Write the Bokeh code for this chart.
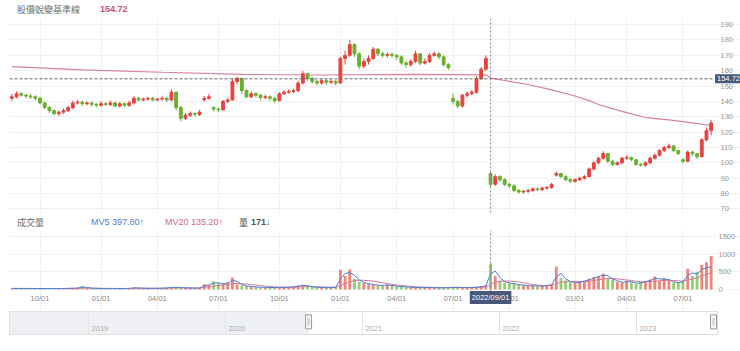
from bokeh.plotting import figure
from bokeh.models import Range1d, FixedTicker, Span, ColumnDataSource, Div, Label
from bokeh.layouts import column
from bokeh.core.properties import value
from bokeh.embed import file_html
from bokeh.resources import INLINE

# ---------------- data ----------------
price_open = [142,143,145,144,143.5,143,142,139,136,134,
              132,133,134,136,139,139.5,138.5,139,138,137.5,
              138.5,138,139,137,138.5,137.5,139,142,141,141.5,
              142,141,141.5,142,141,146,136,129,131,132,
              131.5,141,142,136,135,134.5,140,141,153,155,
              147,143,145,144,142.5,143,142,140.5,145,146,
              146.5,147,152,158,155,153,152,153.5,152.5,153,
              152,168,170,177,171,163,166,168,174,171,
              170,170.5,170,169,165,164,166,171,165,166,
              170,171,169,164,142,140,137,144,145,146,
              155,161,93,86,91,89,86,85,82,81,
              81.5,82,83,82.5,83.5,84,92,93,91,89,
              88,89,90,91,96,100,103,106,101,99,
              100,103,103.5,102,99,98.5,100,103,105,108,
              110,111,108,102,101,107,106,104,115,121]
price_close = [143,145,144,143.5,143,142,139,136,134,132,
               133,134,136,139,139.5,138.5,139,138,137.5,138.5,
               138,139,137,138.5,137.5,139,142,141,141.5,142,
               141,141.5,142,141,146,136,129,131,132,131.5,
               133,142,143,135,134.5,140,141,153,155,147,
               143,145,144,142.5,143,142,140.5,145,146,146.5,
               147,152,158,155,153,152,153.5,152.5,153,152,
               168,170,177,171,163,166,168,174,171,170,
               170.5,170,169,165,164,166,171,165,166,170,
               171,169,164,162,140,137,144,145,146,155,
               161,168,86,91,89,86,85,82,81,81.5,
               82,83,82.5,83.5,84,86,93,91,89,88,
               89,90,91,96,100,103,106,101,99,100,
               103,103.5,102,99,98.5,100,103,105,108,110,
               111,108,106,101,107,106,104,115,121,126]
price_high = [145,146.5,146,145,145,144,143,140,137,135,
              134,135.5,137,140.5,141,140.5,140,140,139,140,
              139.5,140.5,140,139.5,139.5,140.5,143.5,143,142.5,143,
              143,142.5,143.5,143,148,146.5,137,132.5,133.5,133,
              134.5,143.5,145,137,136,141,142.5,155,156,155.5,
              148,146.5,146,145,144.5,144,143,146,147.5,148,
              148.5,153.5,160,158.5,156,154,155,154.5,154.5,154,
              169,173,180,178,172,168,170,175.5,175,172.5,
              172,172,171,170,166.5,167.5,173,171.5,168,171.5,
              172.5,172,170,165,145,141,145,146.5,147.5,156.5,
              162.5,170,95,92.5,92,90,87,86,83,82.5,
              83,84,84,84.5,85,87,94.5,93.5,92,90,
              90,91,92,97,101,104,107.5,106.5,102,101,
              104,105,104,102.5,100,101,104,106,109,111,
              112.5,111.5,108.5,103,108,108,106.5,116,123,128]
price_low = [140.5,142,143,142,141.5,140.5,138,135,132.5,131,
             130.5,132,133,135,138,137,137.5,136.5,136,136.5,
             137,137,136,136,136.5,136.5,138,140,140,140.5,
             140,140,140.5,139.5,140,134,127,128,130,130,
             130.5,140,141,133.5,133,134,139,140.5,151,145,
             142,142,142.5,141,141.5,140.5,139,140,144,145,
             145.5,146,151,153.5,151.5,150.5,151,151,151.5,150.5,
             151.5,164,169,169,161,161.5,164,167,169.5,168.5,
             168.5,168.5,167,163.5,162,162.5,165,163.5,164,165,
             169,167.5,162.5,160.5,138,135.5,136,142.5,144,145,
             154,160,84,85,87.5,85,83.5,81,80,80,
             80.5,81,81.5,81.5,82.5,83,91,90,88,87,
             87,88,89,90.5,95,99,102,100,98,98,
             99,102,101,98,97.5,97.5,99,102,104,107,
             109,107,105,99.5,100.5,104.5,102.5,103.5,114,118]
volume = [30,25,35,28,22,30,26,24,32,28,
          25,30,35,40,45,100,40,35,30,25,
          28,30,26,24,30,35,55,40,35,30,
          32,35,40,45,70,60,50,45,40,35,
          45,150,120,230,180,150,200,340,150,110,
          90,80,70,60,55,60,50,60,70,60,
          80,110,130,90,70,60,55,50,60,70,
          560,380,570,300,220,180,150,130,120,110,
          140,100,90,80,70,60,55,50,60,55,
          50,45,50,55,70,60,55,50,60,70,
          90,110,730,380,250,200,180,150,130,120,
          100,110,90,100,120,150,650,320,260,200,
          180,220,250,300,350,380,450,330,280,220,
          180,250,200,160,210,230,280,370,250,330,
          240,200,180,250,590,380,500,700,770,950]
mv5 = [30,28,30,29,27,28,27,26,29,29,
       27,28,32,37,42,70,60,40,33,28,
       27,29,28,25,27,32,45,45,38,33,
       32,34,38,43,58,62,55,48,42,38,
       42,100,130,180,190,165,180,260,230,140,
       100,85,75,65,58,58,55,56,65,65,
       72,95,120,105,80,65,58,53,56,65,
       300,450,480,400,270,200,165,140,125,115,
       125,115,95,85,75,65,58,53,56,56,
       52,48,48,52,62,63,57,52,56,65,
       80,100,450,520,330,230,190,165,140,125,
       110,105,100,95,110,135,350,460,300,230,
       190,200,235,275,320,365,410,390,300,250,
       200,215,225,180,185,220,255,320,300,290,
       285,220,190,215,400,470,440,560,620,640]
mv20 = [32,31,31,30,30,29,29,28,28,28,
        28,28,29,30,32,38,38,37,36,34,
        33,32,30,29,29,30,33,35,36,36,
        35,35,36,37,42,45,47,48,47,46,
        46,60,75,95,110,125,140,165,170,165,
        155,140,125,110,95,85,75,68,65,63,
        63,70,80,85,85,80,75,70,65,64,
        120,170,220,250,265,260,250,235,215,190,
        165,145,130,115,100,90,80,72,66,62,
        58,55,53,52,53,55,56,56,57,60,
        65,72,150,200,230,240,240,230,215,190,
        165,140,125,115,115,120,170,200,215,225,
        230,225,225,235,255,280,300,310,310,300,
        285,270,255,235,220,215,220,235,245,255,
        260,255,245,240,270,300,330,380,430,480]
base_idx = [0, 15, 32, 49, 66, 85, 101, 102, 105, 110, 115, 120, 123, 125, 130, 135, 140, 145, 149]
base_val = [162.7, 160.6, 159.0, 157.6, 157.2, 157.6, 157.3, 155.2, 153.6, 151.0, 147.5,
            143.5, 140.5, 138.0, 133.5, 129.5, 128.0, 126.0, 124.3]
tick_idx = [6, 19, 31, 44, 57, 70, 82, 94, 106, 120, 131, 143]
tick_labels = ["10/01", "01/01", "04/01", "07/01", "10/01", "01/01",
               "04/01", "07/01", "10/01", "01/01", "04/01", "07/01"]
price_ticks = [70, 80, 90, 100, 110, 120, 130, 140, 150, 160, 170, 180, 190]
vol_ticks = [0, 500, 1000, 1500]
ref_price = 154.72
cross_idx = 102
cross_label = "2022/09/01"
title_text = "股價蛻變基準線"
vol_title = "成交量"
mv5_text = "MV5 397.80↑"
mv20_text = "MV20 135.20↑"
qty_head = "量"
qty_text = "171↓"
nav_years = [2019, 2020, 2021, 2022, 2023]
nav_start, nav_end = 2018.423, 2023.591
sel_start, sel_end = 2020.606, 2023.562

# ---------------- styling / layout constants ----------------
RED, GREEN = "#e8423f", "#69b02f"
AXF = "Liberation Sans"
CJK = "Noto Sans CJK TC"
GRID = "#f0f0f0"
BOX = "#47587a"

N = len(price_close)
FRAME_W = 732                        # frame runs from x=8 to the window edge
PX_PER_BAR = 704 / N                 # bars occupy x=8..712
X_LO = -0.5
X_PLOT_HI = N - 0.5
X_HI = X_LO + FRAME_W / PX_PER_BAR
X_BOX = X_LO + 719 / PX_PER_BAR      # centre of the value box on the price axis

# volume panel: frame 80 px tall, value 0 at 59 px from its top, 1500 ~ 53 px
V_PER_PX = 1500 / 53.0
V_HI = 59 * V_PER_PX
V_LO = -21 * V_PER_PX
V_AXIS = -2 * V_PER_PX
V_LABEL = -8 * V_PER_PX

xs = list(range(N))
is_up = [c >= o for o, c in zip(price_open, price_close)]
src = ColumnDataSource(dict(
    x=xs, high=price_high, low=price_low,
    top=[max(o, c) for o, c in zip(price_open, price_close)],
    bottom=[min(o, c) for o, c in zip(price_open, price_close)],
    color=[RED if u else GREEN for u in is_up],
    vcolor=["#f0705f" if u else "#80c45c" for u in is_up],
    vol=volume, mv5=mv5, mv20=mv20))


def style_axis(ax, ticks, standoff):
    ax.ticker = FixedTicker(ticks=ticks)
    ax.axis_line_color = None
    ax.major_tick_line_color = None
    ax.minor_tick_line_color = None
    ax.major_tick_out = 0
    ax.major_tick_in = 0
    ax.minor_tick_out = 0
    ax.minor_tick_in = 0
    ax.major_label_text_font_size = "7.5px"
    ax.major_label_text_color = "#9a9a9a"
    ax.major_label_text_font = AXF
    ax.major_label_standoff = standoff


def span(text, left, color, font=CJK, weight="normal", top=4):
    return (f'<span style="position:absolute;left:{left}px;top:{top}px;color:{color};'
            f"font-family:'{font}';font-size:9px;line-height:11px;font-weight:{weight};"
            f'white-space:nowrap">{text}</span>')


def header(parts, height):
    inner = "".join(parts)
    return Div(text=f'<div style="position:relative;width:740px;height:{height}px">{inner}</div>',
               width=740, height=height, margin=0)


head1 = header([span(title_text, 17, "#707070"),
                span(f"{ref_price:.2f}", 100, "#c8507a", font=AXF, weight="bold")], 18)

# ---------------- price panel ----------------
p1 = figure(frame_width=FRAME_W, height=197, x_range=Range1d(X_LO, X_HI),
            y_range=Range1d(67, 194), x_axis_location=None, y_axis_location="right",
            output_backend="svg", toolbar_location=None, min_border_left=8,
            min_border_right=0, min_border_top=0, min_border_bottom=2)
p1.outline_line_color = None
ya1 = p1.yaxis[0]
style_axis(ya1, price_ticks, 7)
ya1.fixed_location = X_PLOT_HI
p1.xgrid.ticker = FixedTicker(ticks=tick_idx)
p1.xgrid.grid_line_color = GRID
p1.ygrid.grid_line_color = GRID
p1.ygrid.bounds = (X_LO, X_PLOT_HI)

p1.line(base_idx, base_val, line_color="#d9819e", line_width=1.2)
p1.segment(x0="x", y0="high", x1="x", y1="low", line_color="color", line_width=1, source=src)
p1.vbar(x="x", width=0.6, top="top", bottom="bottom", fill_color="color",
        line_color="color", source=src)
p1.segment(x0=[X_LO], y0=[ref_price], x1=[X_PLOT_HI], y1=[ref_price],
           line_color="#666666", line_dash="3 2", line_width=1)
p1.add_layout(Span(location=cross_idx, dimension="height", line_color="#888888",
                   line_dash="2 2", line_width=1))
p1.add_layout(Label(x=X_BOX, y=ref_price, text=f"{ref_price:.2f}", text_align="center",
                    text_baseline="middle", text_color="white", text_font_size="7.5px",
                    text_font=AXF, background_fill_color=BOX, padding=2))

head2 = header([span(vol_title, 17, "#707070", top=2),
                span(mv5_text, 91, "#4f81d0", font=AXF, top=2),
                span(mv20_text, 165, "#d0688a", font=AXF, top=2),
                span(qty_head, 239, "#555555", top=2),
                span(qty_text, 251, "#555555", font=AXF, weight="bold", top=2)], 15)

# ---------------- volume panel ----------------
p2 = figure(frame_width=FRAME_W, height=80, x_range=p1.x_range, y_range=Range1d(V_LO, V_HI),
            x_axis_location="below", y_axis_location="right", output_backend="svg",
            toolbar_location=None, min_border_left=8, min_border_right=0,
            min_border_top=0, min_border_bottom=0)
p2.outline_line_color = None
ya2 = p2.yaxis[0]
style_axis(ya2, vol_ticks, 5)
ya2.fixed_location = X_PLOT_HI
xa = p2.xaxis[0]
style_axis(xa, tick_idx, 2)
xa.major_label_overrides = {t: s for t, s in zip(tick_idx, tick_labels)}
xa.major_label_text_color = "#8a8a8a"
xa.fixed_location = V_AXIS
p2.xgrid.grid_line_color = GRID
p2.ygrid.grid_line_color = GRID
p2.xgrid.bounds = (V_AXIS, V_HI)
p2.ygrid.bounds = (X_LO, X_PLOT_HI)

p2.vbar(x="x", width=0.6, top="vol", bottom=0, fill_color="vcolor", line_color=None,
        fill_alpha=0.85, source=src)
p2.line("x", "mv20", line_color="#d9789a", line_width=1, source=src)
p2.line("x", "mv5", line_color="#4f7fd6", line_width=1, source=src)
p2.segment(x0=[cross_idx], y0=[V_AXIS], x1=[cross_idx], y1=[V_HI],
           line_color="#888888", line_dash="2 2", line_width=1)
p2.add_layout(Label(x=cross_idx, y=V_LABEL, text=cross_label, text_align="center",
                    text_baseline="middle", text_color="white", text_font_size="7.5px",
                    text_font=AXF, background_fill_color=BOX, padding=2))

# ---------------- navigator ----------------
p3 = figure(width=740, height=41, x_range=Range1d(nav_start, nav_end), y_range=Range1d(0, 1),
            x_axis_location=None, y_axis_location=None, output_backend="svg",
            toolbar_location=None, min_border_left=9, min_border_right=23,
            min_border_top=1, min_border_bottom=17)
p3.outline_line_color = "#dcdcdc"
p3.xgrid.ticker = FixedTicker(ticks=nav_years)
p3.xgrid.grid_line_color = "#e3e3e3"
p3.xgrid.level = "guide"
p3.ygrid.visible = False
p3.quad(left=[nav_start], right=[sel_start], bottom=[0], top=[1],
        fill_color="#eef0f3", line_color=None)
p3.text(x=nav_years, y=[0.15] * len(nav_years), text=[str(y) for y in nav_years],
        text_font=value(AXF), text_font_size="7.5px", text_color="#aaaaaa",
        x_offset=3, text_baseline="bottom")
p3.rect(x=[sel_start, sel_end], y=[0.55, 0.55], width=6, height=14,
        width_units="screen", height_units="screen", fill_color="#f8f8f8",
        line_color="#9a9a9a")
p3.rect(x=[sel_start, sel_end], y=[0.55, 0.55], width=2, height=8,
        width_units="screen", height_units="screen", fill_color="#cfcfcf",
        line_color=None)

layout = column(head1, p1, head2, p2, p3, spacing=0, width=740, height=351,
                styles={"overflow": "hidden"})
open("out.html", "w").write(file_html(layout, INLINE))
